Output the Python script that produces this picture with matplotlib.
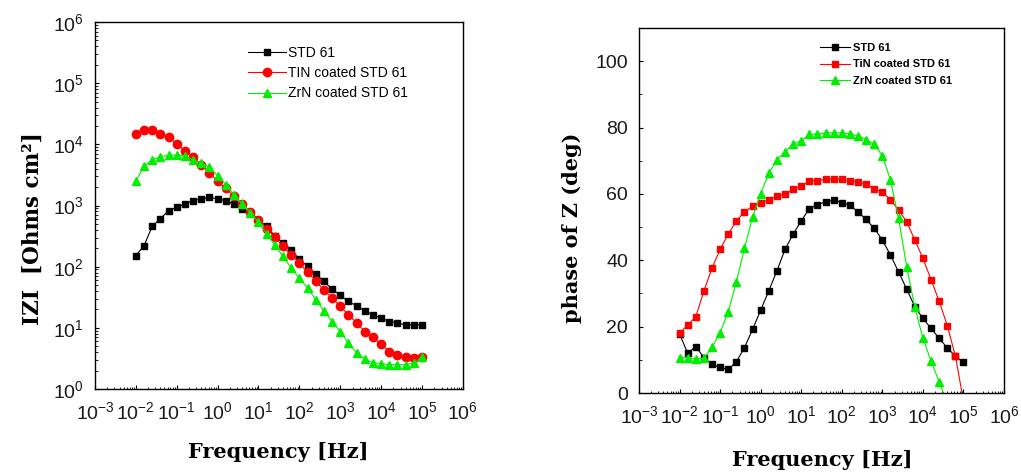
import matplotlib
matplotlib.use('Agg')
import matplotlib.pyplot as plt
from matplotlib.ticker import LogLocator, MultipleLocator, NullFormatter

plt.rcParams['font.family'] = ['Liberation Sans', 'DejaVu Sans']
plt.rcParams['mathtext.fontset'] = 'custom'
plt.rcParams['mathtext.rm'] = 'Liberation Sans'
plt.rcParams['mathtext.it'] = 'Liberation Sans:italic'

# measured frequencies, 5 points per decade
freq = [0.01, 0.0158, 0.0251, 0.0398, 0.0631,
        0.1, 0.158, 0.251, 0.398, 0.631,
        1, 1.58, 2.51, 3.98, 6.31,
        10, 15.8, 25.1, 39.8, 63.1,
        100, 158, 251, 398, 631,
        1000, 1580, 2510, 3980, 6310,
        10000, 15800, 25100, 39800, 63100,
        100000]

# |Z| (Ohm cm^2)
std61_mod = [152, 220, 455, 610, 820, 940, 1060, 1200, 1290, 1360,
             1290, 1200, 1050, 870, 760, 590, 455, 315, 245, 185,
             133, 101, 77, 57.5, 43, 34, 27, 23, 19, 16.3,
             14.5, 12.7, 12.0, 11.2, 11.2, 11.2]
tin_mod = [14700, 17000, 17000, 14700, 13200, 10200, 7900, 6300, 4650, 3400,
           2500, 1900, 1420, 1070, 790, 590, 415, 307, 214, 157,
           115, 81, 59, 41, 31, 22.4, 16.4, 12, 8.7, 7.0,
           5.4, 4.1, 3.6, 3.4, 3.2, 3.4]
zrn_mod = [2500, 4350, 5600, 6300, 6600, 6700, 6500, 5600, 4900, 4250,
           3070, 2200, 1500, 1070, 760, 530, 345, 224, 148, 95,
           65, 45, 29, 19, 12.7, 8.7, 5.6, 3.9, 3.1, 2.7,
           2.6, 2.5, 2.5, 2.5, 2.66, 3.3]

# phase angle (deg)
std61_phase = [17.8, 12.0, 14.0, 10.7, 8.6, 7.7, 7.1, 9.4, 13.7, 19.2,
               25.0, 30.8, 36.8, 43.3, 47.9, 51.9, 55.6, 56.8, 57.6, 58.1,
               57.4, 56.6, 54.6, 52.3, 49.6, 46.1, 41.6, 36.5, 31.3, 26.0,
               22.5, 19.5, 16.5, 13.6, 11.1, 9.2]
tin_phase = [18.0, 20.5, 23.0, 30.8, 37.7, 43.3, 47.9, 51.9, 54.6, 56.3,
             57.3, 58.3, 59.3, 60.1, 61.4, 62.4, 63.9, 64.0, 64.4, 64.5,
             64.4, 64.0, 63.7, 62.9, 61.6, 60.5, 58.3, 55.1, 51.6, 46.1,
             40.6, 34.2, 27.7, 20.3, 11.2, -2.5]
zrn_phase = [10.7, 10.7, 10.2, 10.5, 13.8, 18.2, 24.5, 33.5, 43.6, 53.1,
             60.1, 66.2, 70.2, 72.7, 75.0, 76.0, 78.0, 78.0, 78.4, 78.4,
             78.4, 78.2, 77.4, 76.4, 75.0, 71.5, 64.2, 52.6, 38.0, 25.8,
             16.5, 9.7, 3.4, -3.0]

GREEN = '#00ee00'
label_font = dict(family='DejaVu Serif', weight='bold', size=15)


def style_axes(ax):
    ax.set_xscale('log')
    ax.set_xlim(1e-3, 1e6)
    ax.xaxis.set_major_locator(LogLocator(base=10, numticks=20))
    ax.xaxis.set_minor_locator(LogLocator(base=10, subs=range(2, 10), numticks=20))
    ax.xaxis.set_minor_formatter(NullFormatter())
    ax.tick_params(which='major', direction='in', length=3, width=0.8,
                   labelsize=14, labelcolor='#1a1a1a', top=False, right=False)
    ax.tick_params(which='minor', direction='in', length=1.8, width=0.6,
                   top=False, right=False)
    ax.tick_params(axis='x', pad=9)
    ax.tick_params(axis='y', pad=8)
    for s in ax.spines.values():
        s.set_linewidth(1.0)


fig = plt.figure(figsize=(10.21, 4.75), dpi=100)

# ---- Bode modulus ----
ax1 = fig.add_axes([0.093, 0.181, 0.3604, 0.7726])
ax1.plot(freq, std61_mod, '-s', color='black', ms=5, lw=0.8, label='STD 61')
ax1.plot(freq, tin_mod, '-o', color='red', mfc='red', ms=6, lw=0.8,
         label='TIN coated STD 61')
ax1.plot(freq, zrn_mod, '-^', color=GREEN, ms=6, lw=0.8,
         label='ZrN coated STD 61')
style_axes(ax1)
ax1.set_yscale('log')
ax1.set_ylim(1, 1e6)
ax1.yaxis.set_major_locator(LogLocator(base=10, numticks=20))
ax1.yaxis.set_minor_locator(LogLocator(base=10, subs=range(2, 10), numticks=20))
ax1.yaxis.set_minor_formatter(NullFormatter())
ax1.set_xlabel('Frequency [Hz]', **label_font)
ax1.set_ylabel('IZI  [Ohms cm²]', family='DejaVu Serif', weight='bold', size=15.5)
ax1.xaxis.set_label_coords(0.497, -0.172)
ax1.xaxis.label.set_va('center')
ax1.yaxis.set_label_coords(-0.168, 0.436)
ax1.yaxis.label.set_va('center')
ax1.legend(loc='upper left', bbox_to_anchor=(0.416, 0.935), frameon=False,
           fontsize=10, handlelength=2.7, handletextpad=0.2,
           labelspacing=0.45, borderpad=0, borderaxespad=0)

# ---- Bode phase ----
ax2 = fig.add_axes([0.6259, 0.1726, 0.3575, 0.7684])
ax2.plot(freq, std61_phase, '-s', color='black', ms=5, lw=0.8, label='STD 61')
ax2.plot(freq, tin_phase, '-s', color='red', ms=5, lw=0.8,
         label='TiN coated STD 61')
ax2.plot(freq[:len(zrn_phase)], zrn_phase, '-^', color=GREEN, ms=6, lw=0.8,
         label='ZrN coated STD 61')
style_axes(ax2)
ax2.set_ylim(0, 110)
ax2.yaxis.set_major_locator(MultipleLocator(20))
ax2.yaxis.set_minor_locator(MultipleLocator(10))
ax2.set_xlabel('Frequency [Hz]', **label_font)
ax2.set_ylabel('phase of Z (deg)', **label_font)
ax2.xaxis.set_label_coords(0.501, -0.184)
ax2.xaxis.label.set_va('center')
ax2.yaxis.set_label_coords(-0.184, 0.452)
ax2.yaxis.label.set_va('center')
ax2.legend(loc='upper left', bbox_to_anchor=(0.496, 0.958), frameon=False,
           prop=dict(size=8, weight='bold'), handlelength=2.7,
           handletextpad=0.25, labelspacing=0.55, borderpad=0, borderaxespad=0)

fig.savefig('out.png', dpi=100)
